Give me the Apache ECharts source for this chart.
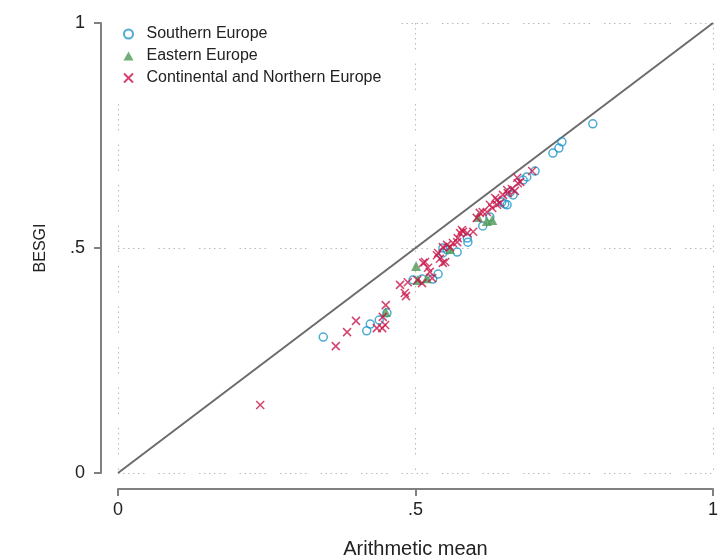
<!DOCTYPE html>
<html>
<head>
<meta charset="utf-8">
<script src="https://cdn.jsdelivr.net/npm/echarts@6/dist/echarts.min.js"></script>
<style>
  html, body { margin: 0; padding: 0; background: #fff; }
  #scatter-chart { width: 723px; height: 559px; }
</style>
</head>
<body>
<div id="scatter-chart"></div>
<script>
  // [arithmetic mean, BESGI]
  var southern = [
    [0.345, 0.302], [0.418, 0.316], [0.424, 0.331], [0.439, 0.340], [0.452, 0.356],
    [0.496, 0.429], [0.511, 0.431], [0.529, 0.431], [0.538, 0.442], [0.546, 0.489],
    [0.546, 0.500], [0.553, 0.496], [0.570, 0.491], [0.587, 0.522], [0.588, 0.513],
    [0.613, 0.549], [0.625, 0.569], [0.645, 0.602], [0.650, 0.598], [0.654, 0.596],
    [0.659, 0.624], [0.664, 0.618], [0.681, 0.651], [0.687, 0.658], [0.701, 0.671],
    [0.731, 0.711], [0.741, 0.722], [0.746, 0.736], [0.798, 0.776]
  ];
  var eastern = [
    [0.450, 0.358], [0.501, 0.460], [0.504, 0.429], [0.519, 0.433], [0.558, 0.498],
    [0.605, 0.569], [0.620, 0.560], [0.629, 0.562]
  ];
  var continental = [
    [0.239, 0.151], [0.366, 0.282], [0.385, 0.313], [0.400, 0.338], [0.435, 0.322],
    [0.444, 0.322], [0.449, 0.329], [0.445, 0.347], [0.450, 0.373], [0.474, 0.418],
    [0.482, 0.400], [0.484, 0.393], [0.487, 0.424], [0.503, 0.429], [0.511, 0.422],
    [0.513, 0.467], [0.521, 0.456], [0.516, 0.469], [0.524, 0.447], [0.528, 0.433],
    [0.536, 0.484], [0.541, 0.476], [0.546, 0.467], [0.550, 0.469], [0.538, 0.489],
    [0.546, 0.502], [0.553, 0.507], [0.558, 0.502], [0.563, 0.511], [0.570, 0.513],
    [0.571, 0.522], [0.575, 0.533], [0.578, 0.540], [0.580, 0.536], [0.587, 0.533],
    [0.597, 0.536], [0.603, 0.567], [0.608, 0.578], [0.613, 0.580], [0.620, 0.580],
    [0.625, 0.596], [0.629, 0.589], [0.634, 0.611], [0.637, 0.596], [0.637, 0.607],
    [0.642, 0.600], [0.647, 0.618], [0.654, 0.629], [0.655, 0.622], [0.662, 0.631],
    [0.667, 0.627], [0.671, 0.656], [0.672, 0.644], [0.676, 0.647], [0.696, 0.671]
  ];
  var diagonal = [[0, 0], [1, 1]];
  var legendNames = ['Southern Europe', 'Eastern Europe', 'Continental and Northern Europe'];

  var font = 'Liberation Sans, Arial, Helvetica, sans-serif';
  var gridDash = [1.5, 3.5, 1.5, 3.5, 1.5, 3.5, 1.5, 3.5, 1.5, 3.5, 1.5, 14];
  var crossPath = 'path://M0,0 L10,10 M10,0 L0,10';

  function tickLabel(v) {
    return String(v).replace(/^0\./, '.');
  }

  var chartDom = document.getElementById('scatter-chart');
  var myChart = echarts.init(chartDom);
  var option;
  option = {
    animation: false,
    grid: { left: 118, right: 10, top: 23, bottom: 86, outerBoundsMode: 'none' },
    legend: {
      data: legendNames,
      orient: 'vertical',
      left: 115,
      top: 22,
      itemGap: 6,
      itemWidth: 10,
      itemHeight: 9,
      backgroundColor: '#fff',
      padding: [4, 10, 6, 8],
      textStyle: { fontFamily: font, fontSize: 16, color: '#222', padding: [0, 0, 0, 8] }
    },
    xAxis: {
      type: 'value',
      min: 0, max: 1, interval: 0.5,
      offset: 16,
      name: 'Arithmetic mean',
      nameLocation: 'middle',
      nameGap: 50,
      nameTextStyle: { fontFamily: font, fontSize: 20, color: '#222' },
      axisLine: { show: true, onZero: false, lineStyle: { color: '#808080', width: 2 } },
      axisTick: { show: true, length: 7, lineStyle: { color: '#808080', width: 2 } },
      axisLabel: { fontFamily: font, fontSize: 18, color: '#222', margin: 12, formatter: tickLabel },
      splitLine: { show: true, lineStyle: { color: '#bbb', width: 1, type: gridDash } }
    },
    yAxis: {
      type: 'value',
      min: 0, max: 1, interval: 0.5,
      offset: 17,
      name: 'BESGI',
      nameLocation: 'middle',
      nameGap: 52,
      nameTextStyle: { fontFamily: font, fontSize: 16, color: '#222' },
      axisLine: { show: true, onZero: false, lineStyle: { color: '#808080', width: 2 } },
      axisTick: { show: true, length: 7, lineStyle: { color: '#808080', width: 2 } },
      axisLabel: { fontFamily: font, fontSize: 18, color: '#222', margin: 16, formatter: tickLabel },
      splitLine: { show: true, lineStyle: { color: '#bbb', width: 1, type: gridDash } }
    },
    series: [
      {
        name: 'diagonal',
        type: 'line',
        data: diagonal,
        symbol: 'none',
        silent: true,
        z: 1,
        lineStyle: { color: '#6b6b6b', width: 2 }
      },
      {
        name: 'Southern Europe',
        type: 'scatter',
        data: southern,
        symbol: 'circle',
        symbolSize: 8,
        itemStyle: { color: 'rgba(0,0,0,0)', borderColor: '#2196c9', borderWidth: 1.5 }
      },
      {
        name: 'Eastern Europe',
        type: 'scatter',
        data: eastern,
        symbol: 'triangle',
        symbolSize: 10,
        itemStyle: { color: '#4e9a55' }
      },
      {
        name: 'Continental and Northern Europe',
        type: 'scatter',
        data: continental,
        symbol: crossPath,
        symbolSize: 8,
        itemStyle: { color: 'rgba(0,0,0,0)', borderColor: '#c8174a', borderWidth: 1.5 }
      }
    ]
  };

  option && myChart.setOption(option);
</script>
</body>
</html>
